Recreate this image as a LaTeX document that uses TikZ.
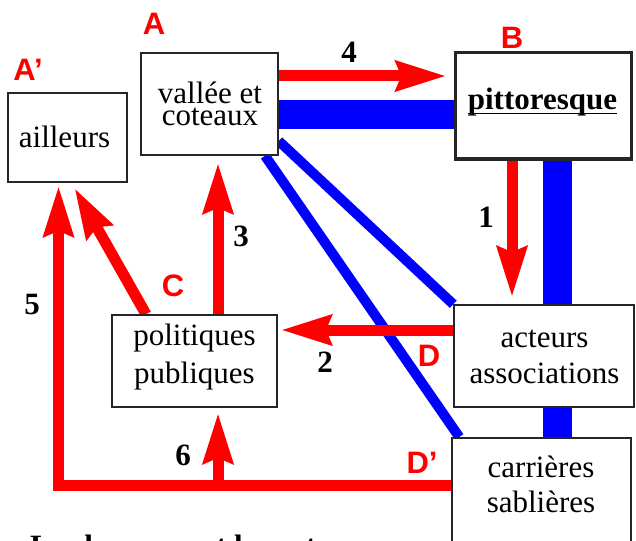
\documentclass[tikz,border=0pt]{standalone}
\usepackage{fontspec}
\setmainfont{Liberation Serif}
\newfontfamily\labfont{Liberation Sans}
\usetikzlibrary{arrows.meta,backgrounds}
\newcommand\ulin[1]{\setbox0\hbox{#1}\rlap{\rule[-4.5pt]{\wd0}{1.8pt}}\box0}
\begin{document}
\begin{tikzpicture}[x=1pt,y=-1pt,
  box/.style={draw=black!85, line width=1.5pt, fill=white, inner sep=0pt},
  txt/.style={font=\fontsize{31}{36}\selectfont, align=center, inner sep=0pt, anchor=base},
  lab/.style={font=\labfont\bfseries\fontsize{31}{31}\selectfont, text=red, inner sep=0pt},
  num/.style={font=\bfseries\fontsize{31}{31}\selectfont, inner sep=0pt},
  redarr/.style={draw=red, line width=11pt, -{Stealth[length=50pt,width=29pt,inset=5pt]}},
  blueband/.style={draw=blue, line width=29pt},
  blueline/.style={draw=blue, line width=10pt},
]
\useasboundingbox (0,0) rectangle (636,540);
% boxes
\node[box, minimum width=119pt, minimum height=89pt] (ail) at (67.5,137.5) {};
\node[box, minimum width=137pt, minimum height=102pt] (val) at (209.5,104) {};
\node[box, line width=3pt, minimum width=176pt, minimum height=106pt] (pit) at (543,106) {};
\node[box, minimum width=180pt, minimum height=102pt] (act) at (544,356) {};
\node[box, minimum width=165pt, minimum height=92pt] (pol) at (194.5,361) {};
\node[box, minimum width=179pt, minimum height=150pt, anchor=north] (car) at (541.5,437) {};
% texts (base anchor = baseline of the last line)
\node[txt] (ailt) at (64.5,148) {ailleurs};
\node[txt, font=\fontsize{31}{22}\selectfont] (valt) at (210,126) {vallée et\\coteaux};
\node[txt, font=\bfseries\fontsize{31}{36}\selectfont] (pitt) at (542.5,110) {\ulin{pittoresque}};
\node[txt] (actt) at (544.5,383) {acteurs\\associations};
\node[txt, font=\fontsize{31}{38}\selectfont] (polt) at (194.5,383) {politiques\\publiques};
\node[txt, font=\fontsize{31}{35}\selectfont] (cart) at (541,512) {carrières\\sablières};
% letters
\node[lab] (lA) at (154,24) {A};
\node[lab] (lAp) at (28,70) {A’};
\node[lab] (lB) at (512,38) {B};
\node[lab] (lC) at (173,286) {C};
\node[lab] (lD) at (429,356) {D};
\node[lab] (lDp) at (422,463) {D’};
% numbers
\node[num] (n4) at (349,52) {4};
\node[num] (n1) at (486,217) {1};
\node[num] (n3) at (241,236) {3};
\node[num] (n2) at (325,362) {2};
\node[num] (n5) at (32,304) {5};
\node[num] (n6) at (183,455) {6};
% helper coordinates
\coordinate (x1) at (512,0);
\coordinate (xb) at (557,0);
\coordinate (x3) at (218,0);
\coordinate (c5) at (58.5,485);
\coordinate (y4) at (0,76);
\coordinate (yb) at (0,115);
\coordinate (y2) at (0,330);
\begin{pgfonlayer}{background}
\node[txt, font=\bfseries\fontsize{31}{36}\selectfont, anchor=base west] (foot) at (30,556) {Les hommes et les acteurs};
\draw[blueband] (val.east |- yb) -- (pit.west |- yb);
\draw[blueband] (pit.south -| xb) -- (car.north -| xb);
\draw[blueline] ([yshift=-37pt]val.east) -- (act.north west);
\draw[blueline] ([xshift=55.5pt]val.south) -- ([xshift=8pt]car.north west);
\draw[redarr, shorten >=7pt] (val.east |- y4) -- (pit.west |- y4);
\draw[redarr, shorten >=7pt] (pit.south -| x1) -- (act.north -| x1);
\draw[redarr, shorten >=3pt] (act.west |- y2) -- (pol.east |- y2);
\draw[redarr, shorten >=7pt] (pol.north -| x3) -- (val.south -| x3);
\draw[redarr, shorten >=6pt] ([xshift=-48.5pt]pol.north) -- ([xshift=4pt]ail.south);
\draw[redarr, line join=miter, shorten >=3pt] (car.west |- c5) -- (c5) -- (ail.south -| c5);
\draw[redarr, shorten >=5pt] (c5 -| x3) -- (pol.south -| x3);
\end{pgfonlayer}
\end{tikzpicture}
\end{document}
